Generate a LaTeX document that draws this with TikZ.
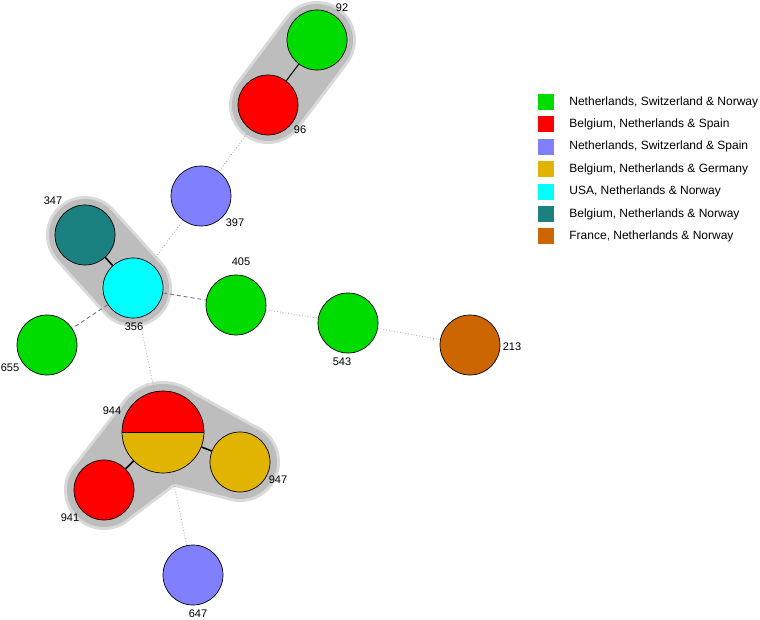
\documentclass[tikz,border=0pt]{standalone}
\usepackage{fontspec}
\setmainfont{Liberation Sans}
\usetikzlibrary{positioning,calc,backgrounds}

\definecolor{cgreen}{RGB}{0,220,0}
\definecolor{cred}{RGB}{255,0,0}
\definecolor{cviolet}{RGB}{128,128,255}
\definecolor{cgold}{RGB}{224,180,0}
\definecolor{ccyan}{RGB}{0,255,255}
\definecolor{cteal}{RGB}{26,128,128}
\definecolor{corange}{RGB}{204,102,0}

\begin{document}
\begin{tikzpicture}[
			x=1pt, y=-1pt,
			every node/.style={font=\fontsize{11}{13}\selectfont},
			st/.style={circle, draw=black, line width=0.7pt, minimum size=60pt, inner sep=0pt},
			num/.style={inner sep=0pt},
			dotline/.style={black!35, line width=0.8pt, dotted},
			dashline/.style={black!55, line width=0.9pt, dash pattern=on 4pt off 3pt},
			link/.style={black, line width=1.6pt},
			hullrim/.style={fill=black!15},
			hullbody/.style={fill=black!26},
			band/.style n args={4}{insert path={($(#1)!#2!90:(#3)$) -- ($(#3)!#4!-90:(#1)$) -- ($(#3)!#4!90:(#1)$) -- ($(#1)!#2!-90:(#3)$) -- cycle}},
			key/.style={minimum size=16pt, inner sep=0pt},
			keytext/.style={inner sep=0pt, font=\fontsize{12}{14}\selectfont}
			]
			
			\useasboundingbox (0,0) rectangle (760,620);
			
			% sequence types
			\node[st, fill=cgreen] (n92) at (317,40) {};
			\node[st, fill=cred] (n96) at (268,105) {};
			\node[st, fill=cviolet] (n397) at (201,196) {};
			\node[st, fill=cteal] (n347) at (85,235) {};
			\node[st, fill=ccyan] (n356) at (133,288) {};
			\node[st, fill=cgreen] (n655) at (47,345) {};
			\node[st, fill=cgreen] (n405) at (236,305) {};
			\node[st, fill=cgreen] (n543) at (348,323) {};
			\node[st, fill=corange] (n213) at (470,345) {};
			\node[st, minimum size=82pt,
				path picture={
					\fill[cred] (path picture bounding box.north west) rectangle (path picture bounding box.east);
					\fill[cgold] (path picture bounding box.west) rectangle (path picture bounding box.south east);
				}] (n944) at (163,432) {};
			\draw[line width=0.7pt] (n944.west) -- (n944.east);
			\node[st, fill=cred] (n941) at (104,490) {};
			\node[st, fill=cgold] (n947) at (240,462) {};
			\node[st, fill=cviolet] (n647) at (193,575) {};
			
			% numbers
			\node[num] (l92) at (342,8) {92};
			\node[num] (l96) at (300,130) {96};
			\node[num] (l397) at (235,223) {397};
			\node[num] (l347) at (53,201) {347};
			\node[num] (l356) at (134,327) {356};
			\node[num] (l655) at (10,368) {655};
			\node[num] (l405) at (241,262) {405};
			\node[num] (l543) at (342,362) {543};
			\node[num] (l213) at (512,347) {213};
			\node[num] (l944) at (112,411) {944};
			\node[num] (l941) at (70,518) {941};
			\node[num] (l947) at (278,480) {947};
			\node[num] (l647) at (198,614) {647};
			
			% links
			\draw[link, line width=1pt] (n92) -- (n96);
			\draw[link] (n347) -- (n356);
			\draw[link] (n944) -- (n941);
			\draw[link] (n944) -- (n947);
			\draw[dotline] (n96) -- (n397);
			\draw[dotline] (n397) -- (n356);
			\draw[dashline] (n356) -- (n655);
			\draw[dashline] (n356) -- (n405);
			\draw[dotline] (n405) -- (n543);
			\draw[dotline] (n543) -- (n213);
			\draw[dotline] (n356) -- (n944);
			\draw[dotline] (n944) -- (n647);
			
			% groups
			\begin{scope}[on background layer]
				\draw[black!15, line width=78pt, line cap=round] (n92.center) -- (n96.center);
				\draw[black!26, line width=72pt, line cap=round] (n92.center) -- (n96.center);
				\draw[black!15, line width=78pt, line cap=round] (n347.center) -- (n356.center);
				\draw[black!26, line width=72pt, line cap=round] (n347.center) -- (n356.center);
				\fill[hullrim] (n944) circle[radius=51pt] (n941) circle[radius=40pt] (n947) circle[radius=40pt];
				\fill[hullrim] [band={n944}{51pt}{n941}{40pt}];
				\fill[hullrim] [band={n944}{51pt}{n947}{40pt}];
				\fill[hullbody] (n944) circle[radius=48pt] (n941) circle[radius=37pt] (n947) circle[radius=37pt];
				\fill[hullbody] [band={n944}{48pt}{n941}{37pt}];
				\fill[hullbody] [band={n944}{48pt}{n947}{37pt}];
			\end{scope}
			
			% legend
			\node[key, fill=cgreen] (k1) at (546,102) {};
			\node[key, fill=cred, below=6pt of k1] (k2) {};
			\node[key, fill=cviolet, below=6pt of k2] (k3) {};
			\node[key, fill=cgold, below=6pt of k3] (k4) {};
			\node[key, fill=ccyan, below=6pt of k4] (k5) {};
			\node[key, fill=cteal, below=6pt of k5] (k6) {};
			\node[key, fill=corange, below=6pt of k6] (k7) {};
			\node[keytext, right=15pt of k1] (t1) {Netherlands, Switzerland \& Norway};
			\node[keytext, right=15pt of k2] (t2) {Belgium, Netherlands \& Spain};
			\node[keytext, right=15pt of k3] (t3) {Netherlands, Switzerland \& Spain};
			\node[keytext, right=15pt of k4] (t4) {Belgium, Netherlands \& Germany};
			\node[keytext, right=15pt of k5] (t5) {USA, Netherlands \& Norway};
			\node[keytext, right=15pt of k6] (t6) {Belgium, Netherlands \& Norway};
			\node[keytext, right=15pt of k7] (t7) {France, Netherlands \& Norway};
			
		\end{tikzpicture}
\end{document}
